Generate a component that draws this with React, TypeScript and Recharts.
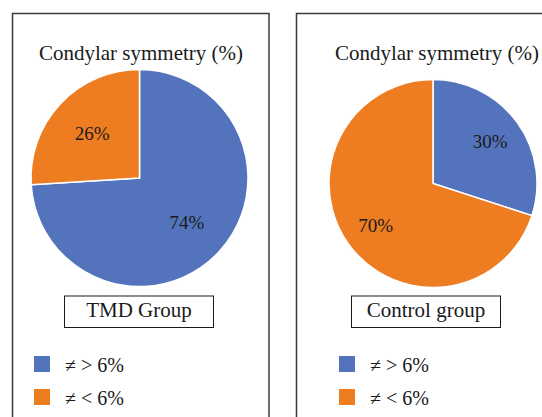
import { PieChart, Pie, Cell } from 'recharts';

// カテゴリと値
const categories = ['≠ > 6%', '≠ < 6%'];
const tmdValues = [74, 26];
const controlValues = [30, 70];
const colors = ['#5374BC', '#EE7D22'];
const chartTitle = 'Condylar symmetry (%)';
const groupLabels = ['TMD Group', 'Control group'];

const tmdData = categories.map((name, i) => ({ name, value: tmdValues[i] }));
const controlData = categories.map((name, i) => ({ name, value: controlValues[i] }));

const FONT = '"Liberation Serif", "DejaVu Serif", serif';
const RAD = Math.PI / 180;

// スライス中心の角度にラベルを置く
const makeLabel = (ratio: number) => (props: any) => {
  const { cx, cy, midAngle, outerRadius, value } = props;
  const r = outerRadius * ratio;
  const x = cx + r * Math.cos(-midAngle * RAD);
  const y = cy + r * Math.sin(-midAngle * RAD);
  return (
    <text
      x={x}
      y={y}
      textAnchor="middle"
      dominantBaseline="central"
      fill="#1a1a1a"
      fontFamily={FONT}
      fontSize={19}
    >
      {value}%
    </text>
  );
};

function Legend({ x, y }: { x: number; y: number }) {
  return (
    <g>
      {categories.map((c, i) => (
        <g key={c}>
          <rect x={x} y={y + i * 33} width={16} height={16} fill={colors[i]} />
          <text x={x + 31} y={y + 15.5 + i * 33} fontFamily={FONT} fontSize={20} fill="#1a1a1a">
            {c}
          </text>
        </g>
      ))}
    </g>
  );
}

export default function App() {
  return (
    <div
      style={{
        position: 'fixed',
        left: 0,
        top: 0,
        width: 542,
        height: 417,
        background: '#fff',
        overflow: 'hidden',
      }}
    >
      <div style={{ position: 'absolute', left: 0, top: 0 }}>
        <PieChart width={542} height={417} margin={{ top: 0, right: 0, bottom: 0, left: 0 }}>
          <Pie
            data={tmdData}
            dataKey="value"
            cx={139.5}
            cy={178}
            outerRadius={108.5}
            startAngle={90}
            endAngle={-270}
            stroke="#fff"
            strokeWidth={1.5}
            labelLine={false}
            label={makeLabel(0.6)}
            isAnimationActive={false}
          >
            {tmdData.map((d, i) => (
              <Cell key={d.name} fill={colors[i]} />
            ))}
          </Pie>
          <Pie
            data={controlData}
            dataKey="value"
            cx={433}
            cy={183.5}
            outerRadius={104}
            startAngle={90}
            endAngle={-270}
            stroke="#fff"
            strokeWidth={1.5}
            labelLine={false}
            label={makeLabel(0.68)}
            isAnimationActive={false}
          >
            {controlData.map((d, i) => (
              <Cell key={d.name} fill={colors[i]} />
            ))}
          </Pie>
        </PieChart>
      </div>
      <svg
        width={542}
        height={417}
        style={{ position: 'absolute', left: 0, top: 0, pointerEvents: 'none' }}
      >
        {/* パネル枠 */}
        <rect x={12.5} y={13.5} width={256.5} height={500} fill="none" stroke="#3a3a3a" strokeWidth={1.5} />
        <rect x={296.5} y={13.5} width={300} height={500} fill="none" stroke="#3a3a3a" strokeWidth={1.5} />

        <text x={141} y={60} textAnchor="middle" fontFamily={FONT} fontSize={21} fill="#1a1a1a">
          {chartTitle}
        </text>
        <text x={437} y={60} textAnchor="middle" fontFamily={FONT} fontSize={21} fill="#1a1a1a">
          {chartTitle}
        </text>

        <rect x={64.5} y={296} width={149} height={31.5} fill="#fff" stroke="#1a1a1a" strokeWidth={1} />
        <text x={139} y={317} textAnchor="middle" fontFamily={FONT} fontSize={21} fill="#1a1a1a">
          {groupLabels[0]}
        </text>
        <rect x={351.5} y={296} width={149} height={31.5} fill="#fff" stroke="#1a1a1a" strokeWidth={1} />
        <text x={426} y={317} textAnchor="middle" fontFamily={FONT} fontSize={21} fill="#1a1a1a">
          {groupLabels[1]}
        </text>

        <Legend x={34} y={356} />
        <Legend x={339} y={356} />
      </svg>
    </div>
  );
}
